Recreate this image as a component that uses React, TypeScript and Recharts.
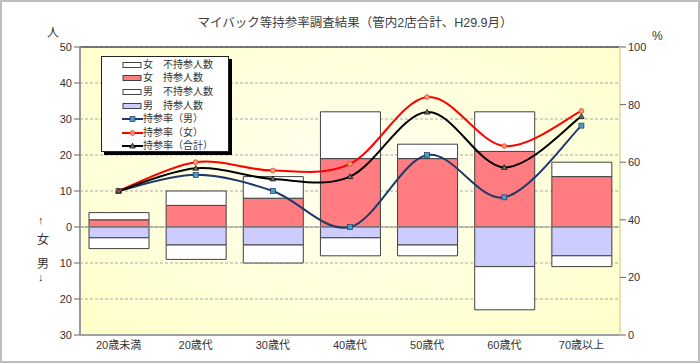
import {
  Bar,
  CartesianGrid,
  ComposedChart,
  Legend,
  Line,
  ReferenceLine,
  XAxis,
  YAxis,
} from "recharts";

const categories = ["20歳未満", "20歳代", "30歳代", "40歳代", "50歳代", "60歳代", "70歳以上"];

// 人数（女は上、男は下）
const womenHave = [2, 6, 8, 19, 19, 21, 14];
const womenNot = [2, 4, 6, 13, 4, 11, 4];
const menHave = [3, 5, 5, 3, 5, 11, 8];
const menNot = [3, 4, 5, 5, 3, 12, 3];

// 持参率（%）
const rateMen = [50, 55.6, 50, 37.5, 62.5, 47.8, 72.7];
const rateWomen = [50, 60, 57.1, 59.4, 82.6, 65.6, 77.8];
const rateTotal = [50, 57.9, 54.2, 55, 77.4, 58.2, 75.9];

const leftTicks = [-30, -20, -10, 0, 10, 20, 30, 40, 50];
const rightTicks = [0, 20, 40, 60, 80, 100];

const data = categories.map((name, i) => ({
  name,
  womenHave: womenHave[i],
  womenNot: womenNot[i],
  menHave: -menHave[i],
  menNot: -menNot[i],
  rateMen: rateMen[i],
  rateWomen: rateWomen[i],
  rateTotal: rateTotal[i],
}));

const FONT = "'Liberation Sans', 'Noto Sans CJK JP', sans-serif";
const RED = "#FF7C80";
const BLUE = "#CCCCFF";

// Excel風のスムージング
const smooth = (context: any) => {
  let pts: number[][] = [];
  return {
    areaStart() {},
    areaEnd() {},
    lineStart() {
      pts = [];
    },
    point(x: number, y: number) {
      pts.push([+x, +y]);
    },
    lineEnd() {
      if (!pts.length) return;
      context.moveTo(pts[0][0], pts[0][1]);
      for (let i = 0; i < pts.length - 1; i++) {
        const p0 = pts[i - 1] || pts[i];
        const p1 = pts[i];
        const p2 = pts[i + 1];
        const p3 = pts[i + 2] || p2;
        context.bezierCurveTo(
          p1[0] + (p2[0] - p0[0]) / 6,
          p1[1] + (p2[1] - p0[1]) / 6,
          p2[0] - (p3[0] - p1[0]) / 6,
          p2[1] - (p3[1] - p1[1]) / 6,
          p2[0],
          p2[1]
        );
      }
    },
  };
};

const squareDot = (props: any) => (
  <rect
    key={`m-${props.index}`}
    x={props.cx - 2.5}
    y={props.cy - 2.5}
    width={5}
    height={5}
    fill="#4A9CC4"
    stroke="#1F3A68"
    strokeWidth={0.7}
  />
);

const circleDot = (props: any) => (
  <circle
    key={`w-${props.index}`}
    cx={props.cx}
    cy={props.cy}
    r={2.4}
    fill="#F4A070"
    stroke="#E03020"
    strokeWidth={0.7}
  />
);

const triDot = (props: any) => (
  <path
    key={`t-${props.index}`}
    d={`M${props.cx},${props.cy - 2.8}L${props.cx + 2.8},${props.cy + 2}L${props.cx - 2.8},${props.cy + 2}Z`}
    fill="#707070"
    stroke="#000"
    strokeWidth={0.7}
  />
);

const legendItems = [
  { label: "女　不持参人数", kind: "bar", fill: "#FFFFFF" },
  { label: "女　持参人数", kind: "bar", fill: RED },
  { label: "男　不持参人数", kind: "bar", fill: "#FFFFFF" },
  { label: "男　持参人数", kind: "bar", fill: BLUE },
  { label: "持参率（男）", kind: "line", stroke: "#1F3A68", marker: "square" },
  { label: "持参率（女）", kind: "line", stroke: "#FF0000", marker: "circle" },
  { label: "持参率（合計）", kind: "line", stroke: "#000000", marker: "tri" },
];

const renderLegend = () => (
  <div
    style={{
      width: 128,
      height: 96,
      boxSizing: "border-box",
      border: "1px solid #222",
      boxShadow: "3px 3px 0 #000",
      background: "#fff",
      paddingTop: 1,
      fontFamily: FONT,
      fontSize: 10,
      color: "#333",
    }}
  >
    {legendItems.map((it) => (
      <div key={it.label} style={{ display: "flex", alignItems: "center", height: 13.6, paddingLeft: 20 }}>
        <svg width={21} height={10} style={{ flex: "none" }}>
          {it.kind === "bar" ? (
            <rect x={1} y={2.5} width={18} height={5} fill={it.fill} stroke="#444" strokeWidth={1} />
          ) : (
            <g>
              <line x1={0} y1={5} x2={21} y2={5} stroke={it.stroke} strokeWidth={2} />
              {it.marker === "square" && squareDot({ cx: 10.5, cy: 5, index: 0 })}
              {it.marker === "circle" && circleDot({ cx: 10.5, cy: 5, index: 0 })}
              {it.marker === "tri" && triDot({ cx: 10.5, cy: 5, index: 0 })}
            </g>
          )}
        </svg>
        <span style={{ whiteSpace: "nowrap", lineHeight: "10px" }}>{it.label}</span>
      </div>
    ))}
  </div>
);

const textStyle = {
  position: "absolute" as const,
  fontFamily: FONT,
  color: "#333",
  lineHeight: 1,
};

export default function App() {
  return (
    <div style={{ position: "relative", width: 700, height: 363, background: "#fff" }}>
      <style>{`body{margin:0}`}</style>
      <ComposedChart
        width={700}
        height={363}
        data={data}
        stackOffset="sign"
        margin={{ top: 47, right: 0, left: 0, bottom: 0 }}
        style={{ position: "absolute", left: 0, top: 0 }}
      >
        <defs>
          <radialGradient id="plotBg" cx="50%" cy="45%" r="75%">
            <stop offset="0%" stopColor="#FFFFF2" />
            <stop offset="100%" stopColor="#FFFFC8" />
          </radialGradient>
        </defs>
        <CartesianGrid
          yAxisId="left"
          vertical={false}
          stroke="#A8A8A8"
          strokeDasharray="3 2"
          fill="url(#plotBg)"
          fillOpacity={1}
        />
        <XAxis
          dataKey="name"
          height={28}
          tickLine={false}
          tickSize={4}
          tickMargin={2}
          axisLine={{ stroke: "#A0A0A0", strokeWidth: 2 }}
          tick={{ fontSize: 11, fill: "#333", fontFamily: FONT }}
          interval={0}
        />
        <YAxis
          yAxisId="left"
          width={80}
          domain={[-30, 50]}
          ticks={leftTicks}
          tickFormatter={(v: number) => String(Math.abs(v))}
          axisLine={{ stroke: "#9A9A9A", strokeWidth: 2 }}
          tickLine={{ stroke: "#666" }}
          tick={{ fontSize: 11, fill: "#333", fontFamily: FONT }}
          allowDataOverflow
        />
        <YAxis
          yAxisId="right"
          orientation="right"
          width={80}
          domain={[0, 100]}
          ticks={rightTicks}
          axisLine={{ stroke: "#E2E2B8", strokeWidth: 2 }}
          tickLine={{ stroke: "#666" }}
          tick={{ fontSize: 11, fill: "#333", fontFamily: FONT }}
        />
        <ReferenceLine yAxisId="left" y={50} stroke="#505050" strokeWidth={1.5} />
        <ReferenceLine yAxisId="left" y={0} stroke="#909090" strokeWidth={1} />
        <Bar yAxisId="left" dataKey="womenHave" name="女　持参人数" stackId="a" barSize={60} fill={RED} stroke="#404040" strokeWidth={1} isAnimationActive={false} />
        <Bar yAxisId="left" dataKey="womenNot" name="女　不持参人数" stackId="a" barSize={60} fill="#FFFFFF" stroke="#404040" strokeWidth={1} isAnimationActive={false} />
        <Bar yAxisId="left" dataKey="menHave" name="男　持参人数" stackId="a" barSize={60} fill={BLUE} stroke="#404040" strokeWidth={1} isAnimationActive={false} />
        <Bar yAxisId="left" dataKey="menNot" name="男　不持参人数" stackId="a" barSize={60} fill="#FFFFFF" stroke="#404040" strokeWidth={1} isAnimationActive={false} />
        <Line yAxisId="right" dataKey="rateMen" name="持参率（男）" type={smooth as any} stroke="#1F3A68" strokeWidth={2} dot={squareDot} activeDot={false} isAnimationActive={false} />
        <Line yAxisId="right" dataKey="rateWomen" name="持参率（女）" type={smooth as any} stroke="#FF0000" strokeWidth={2} dot={circleDot} activeDot={false} isAnimationActive={false} />
        <Line yAxisId="right" dataKey="rateTotal" name="持参率（合計）" type={smooth as any} stroke="#000000" strokeWidth={2} dot={triDot} activeDot={false} isAnimationActive={false} />
        <Legend
          layout="vertical"
          align="center"
          verticalAlign="middle"
          content={renderLegend}
          wrapperStyle={{ left: 101, top: 56, width: 132, height: 100 }}
        />
      </ComposedChart>
      <div style={{ ...textStyle, left: 0, width: 710, top: 17, textAlign: "center", fontSize: 12.5, color: "#404040" }}>
        マイバック等持参率調査結果（管内2店合計、H29.9月）
      </div>
      <div style={{ ...textStyle, left: 47, top: 27, fontSize: 12 }}>人</div>
      <div style={{ ...textStyle, left: 652, top: 30, fontSize: 12 }}>%</div>
      <div style={{ ...textStyle, left: 38, top: 215, fontSize: 11 }}>↑</div>
      <div style={{ ...textStyle, left: 37, top: 234, fontSize: 12 }}>女</div>
      <div style={{ ...textStyle, left: 37, top: 258, fontSize: 12 }}>男</div>
      <div style={{ ...textStyle, left: 38, top: 272, fontSize: 11 }}>↓</div>
      <div
        style={{
          position: "absolute",
          left: 0,
          top: 0,
          width: 700,
          height: 363,
          boxSizing: "border-box",
          border: "2px solid #BDBDBD",
          pointerEvents: "none",
        }}
      />
    </div>
  );
}
